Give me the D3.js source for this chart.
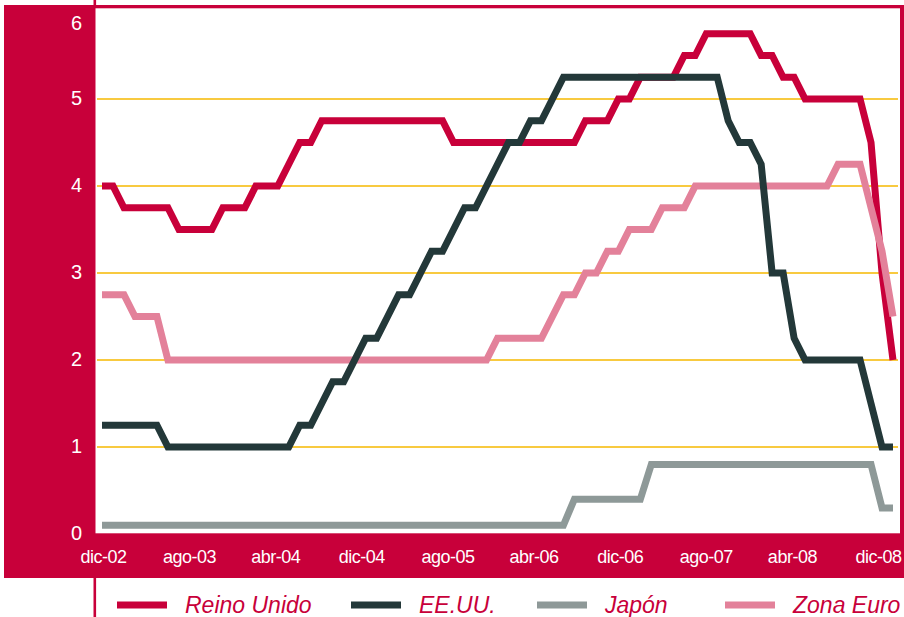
<!DOCTYPE html>
<html>
<head>
<meta charset="utf-8">
<script src="https://cdn.jsdelivr.net/npm/d3@7/dist/d3.min.js"></script>
<style>
  html, body { margin: 0; padding: 0; background: #ffffff; }
  svg { display: block; }
  text { font-family: "Liberation Sans", Arial, Helvetica, sans-serif; }
</style>
</head>
<body>
<svg id="chart" width="904" height="617"></svg>
<script>
// Monthly official interest rates (%), Dec 2002 – Dec 2008
const reinoUnido = [
  4.0, 4.0,
  3.75, 3.75, 3.75, 3.75, 3.75,
  3.5, 3.5, 3.5, 3.5,
  3.75, 3.75, 3.75,
  4.0, 4.0, 4.0,
  4.25,
  4.5, 4.5,
  4.75, 4.75, 4.75, 4.75, 4.75, 4.75, 4.75, 4.75, 4.75, 4.75, 4.75, 4.75,
  4.5, 4.5, 4.5, 4.5, 4.5, 4.5, 4.5, 4.5, 4.5, 4.5, 4.5, 4.5,
  4.75, 4.75, 4.75,
  5.0, 5.0,
  5.25, 5.25, 5.25, 5.25,
  5.5, 5.5,
  5.75, 5.75, 5.75, 5.75, 5.75,
  5.5, 5.5,
  5.25, 5.25,
  5.0, 5.0, 5.0, 5.0, 5.0, 5.0,
  4.5, 3.0, 2.0
];
const eeuu = [
  1.25, 1.25, 1.25, 1.25, 1.25, 1.25,
  1.0, 1.0, 1.0, 1.0, 1.0, 1.0, 1.0, 1.0, 1.0, 1.0, 1.0, 1.0,
  1.25, 1.25,
  1.5,
  1.75, 1.75,
  2.0,
  2.25, 2.25,
  2.5,
  2.75, 2.75,
  3.0,
  3.25, 3.25,
  3.5,
  3.75, 3.75,
  4.0,
  4.25,
  4.5, 4.5,
  4.75, 4.75,
  5.0,
  5.25, 5.25, 5.25, 5.25, 5.25, 5.25, 5.25, 5.25, 5.25, 5.25, 5.25, 5.25, 5.25, 5.25, 5.25,
  4.75,
  4.5, 4.5,
  4.25,
  3.0, 3.0,
  2.25,
  2.0, 2.0, 2.0, 2.0, 2.0, 2.0,
  1.5,
  1.0, 1.0
];
const japon = [
  0.1, 0.1, 0.1, 0.1, 0.1, 0.1, 0.1, 0.1, 0.1, 0.1,
  0.1, 0.1, 0.1, 0.1, 0.1, 0.1, 0.1, 0.1, 0.1, 0.1,
  0.1, 0.1, 0.1, 0.1, 0.1, 0.1, 0.1, 0.1, 0.1, 0.1,
  0.1, 0.1, 0.1, 0.1, 0.1, 0.1, 0.1, 0.1, 0.1, 0.1,
  0.1, 0.1, 0.1,
  0.4, 0.4, 0.4, 0.4, 0.4, 0.4, 0.4,
  0.8, 0.8, 0.8, 0.8, 0.8, 0.8, 0.8, 0.8, 0.8, 0.8,
  0.8, 0.8, 0.8, 0.8, 0.8, 0.8, 0.8, 0.8, 0.8, 0.8, 0.8,
  0.3, 0.3
];
const zonaEuro = [
  2.75, 2.75, 2.75,
  2.5, 2.5, 2.5,
  2.0, 2.0, 2.0, 2.0, 2.0, 2.0, 2.0, 2.0, 2.0, 2.0,
  2.0, 2.0, 2.0, 2.0, 2.0, 2.0, 2.0, 2.0, 2.0, 2.0,
  2.0, 2.0, 2.0, 2.0, 2.0, 2.0, 2.0, 2.0, 2.0, 2.0,
  2.25, 2.25, 2.25, 2.25, 2.25,
  2.5,
  2.75, 2.75,
  3.0, 3.0,
  3.25, 3.25,
  3.5, 3.5, 3.5,
  3.75, 3.75, 3.75,
  4.0, 4.0, 4.0, 4.0, 4.0, 4.0, 4.0, 4.0, 4.0, 4.0, 4.0, 4.0, 4.0,
  4.25, 4.25, 4.25,
  3.75, 3.25, 2.5
];

const seriesNames = ["Reino Unido", "EE.UU.", "Japón", "Zona Euro"];
const xTickLabels = ["dic-02", "ago-03", "abr-04", "dic-04", "ago-05", "abr-06", "dic-06", "ago-07", "abr-08", "dic-08"];
const yTicks = [0, 1, 2, 3, 4, 5, 6];

const RED = "#c8003a";
const colors = {
  "Reino Unido": RED,
  "EE.UU.": "#233839",
  "Japón": "#8e9998",
  "Zona Euro": "#e3819a"
};
const valuesByName = {
  "Reino Unido": reinoUnido,
  "EE.UU.": eeuu,
  "Japón": japon,
  "Zona Euro": zonaEuro
};

// monthly categories, Dec 2002 .. Dec 2008
const months = d3.timeMonth.range(new Date(2002, 11, 1), new Date(2009, 0, 1));

const svg = d3.select("#chart");

// crimson frame with the white plotting window
svg.append("rect").attr("x", 4).attr("y", 5).attr("width", 900).attr("height", 573).attr("fill", RED);
svg.append("rect").attr("x", 95.5).attr("y", 8.3).attr("width", 900 - 95.5).attr("height", 533.3 - 8.3).attr("fill", "#ffffff");
svg.append("line").attr("x1", 94.8).attr("x2", 94.8).attr("y1", 0).attr("y2", 5)
  .attr("stroke", RED).attr("stroke-width", 2.6);
svg.append("line").attr("x1", 94.8).attr("x2", 94.8).attr("y1", 578).attr("y2", 617)
  .attr("stroke", RED).attr("stroke-width", 2.6);

// scales
const x = d3.scalePoint().domain(months).range([102, 893]);
const y = d3.scaleLinear().domain([0, 6]).range([534, 12]);
const xLabelScale = d3.scalePoint().domain(xTickLabels).range([103, 878]);

// horizontal gridlines
svg.append("g")
  .selectAll("line")
  .data(yTicks.filter(v => v > 0 && v < 6))
  .join("line")
  .attr("x1", 97).attr("x2", 898)
  .attr("y1", d => y(d)).attr("y2", d => y(d))
  .attr("stroke", "#f6b900").attr("stroke-width", 1.5);

// y axis labels
const yAxis = svg.append("g")
  .attr("transform", "translate(82,0)")
  .call(d3.axisLeft(y).tickValues(yTicks).tickSize(0).tickPadding(0).tickFormat(d3.format("d")));
yAxis.select(".domain").remove();
yAxis.selectAll("text")
  .attr("fill", "#ffffff")
  .attr("font-size", "20px")
  .attr("font-family", "'Liberation Sans', Arial, sans-serif")
  .attr("dy", "0.28em");
// keep the top label inside the crimson panel
yAxis.selectAll(".tick").filter(d => d === 6).select("text").attr("dy", "0.88em");

// x axis labels
const xAxis = svg.append("g")
  .attr("transform", "translate(0,545)")
  .call(d3.axisBottom(xLabelScale).tickSize(0).tickPadding(0));
xAxis.select(".domain").remove();
xAxis.selectAll("text")
  .attr("fill", "#ffffff")
  .attr("font-size", "18px")
  .attr("letter-spacing", "-0.5px")
  .attr("font-family", "'Liberation Sans', Arial, sans-serif")
  .attr("dy", "1em");

// series lines
const line = d3.line()
  .x((d, i) => x(months[i]))
  .y(d => y(d));

const drawOrder = ["Reino Unido", "Zona Euro", "Japón", "EE.UU."];
svg.append("g")
  .selectAll("path")
  .data(drawOrder)
  .join("path")
  .attr("d", name => line(valuesByName[name]))
  .attr("fill", "none")
  .attr("stroke", name => colors[name])
  .attr("stroke-width", 7)
  .attr("stroke-linejoin", "miter")
  .attr("stroke-linecap", "butt");

// legend
const legendX = [117, 351, 537, 725];
const legend = svg.append("g")
  .selectAll("g")
  .data(seriesNames)
  .join("g")
  .attr("transform", (d, i) => `translate(${legendX[i]},605)`);
legend.append("line")
  .attr("x1", 0).attr("x2", 50).attr("y1", 0).attr("y2", 0)
  .attr("stroke", d => colors[d]).attr("stroke-width", 7);
legend.append("text")
  .attr("x", 68).attr("y", 7.5)
  .attr("fill", RED)
  .attr("font-size", "23px")
  .attr("font-style", "italic")
  .text(d => d);
</script>
</body>
</html>
